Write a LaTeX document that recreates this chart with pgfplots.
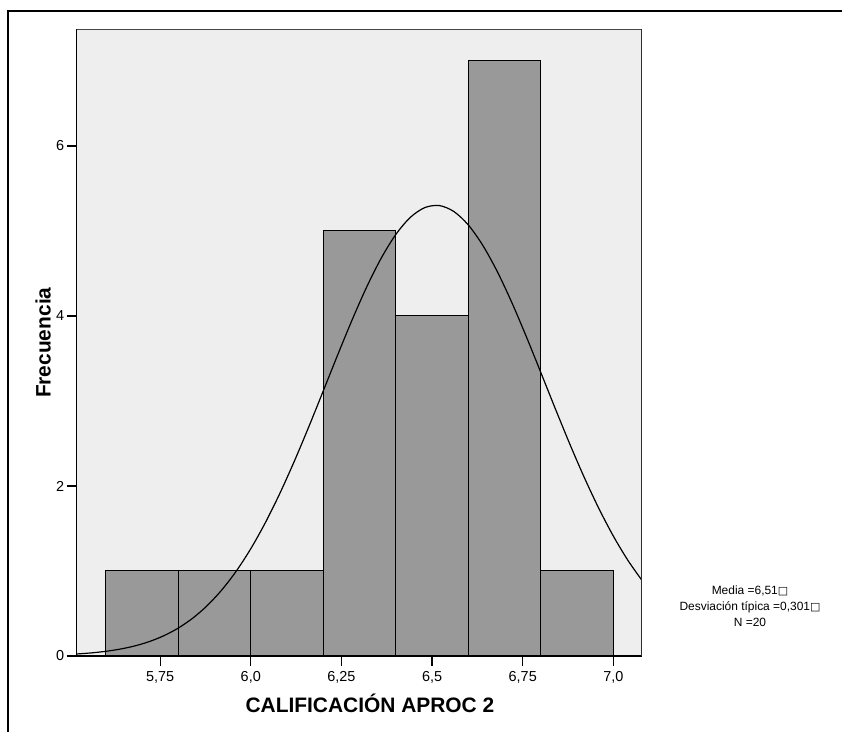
\documentclass[border=0pt]{standalone}
\usepackage{fontspec}
\setmainfont{Liberation Sans}
\newfontfamily\symfont{DejaVu Sans}
\usepackage{pgfplots}
\pgfplotsset{compat=1.18}
\definecolor{panelbg}{RGB}{238,238,238}
\definecolor{barfill}{RGB}{153,153,153}
\definecolor{frameedge}{RGB}{70,70,70}
\newcommand{\missingglyph}{{\symfont\fontsize{11}{16}\selectfont □}}

\begin{document}
\begin{tikzpicture}
\useasboundingbox (0bp,0bp) rectangle (842bp,732bp);
\draw[line width=1.2bp] (8bp,0bp) -- (8bp,721bp) -- (842bp,721bp);
\begin{axis}[
  at={(76.7bp,76bp)}, anchor=south west,
  scale only axis, width=565bp, height=626.5bp,
  xmin=5.52, xmax=7.078, ymin=0, ymax=7.37,
  axis background/.style={fill=panelbg},
  axis line style={black, line width=1.2bp},
  xtick={5.75,6.0,6.25,6.5,6.75,7.0},
  xticklabels={{5,75},{6,0},{6,25},{6,5},{6,75},{7,0}},
  ytick={0,2,4,6},
  tick align=outside, tick pos=left,
  major tick length=10bp,
  tick style={black, line width=1.2bp},
  /pgf/number format/assume math mode=true,
  tick label style={font=\fontsize{14.5}{16}\selectfont},
  xticklabel style={yshift=-2bp},
  yticklabel style={xshift=1bp},
  label style={font=\fontsize{21}{24}\selectfont\bfseries},
  xlabel={CALIFICACIÓN APROC 2},
  ylabel={Frecuencia},
  xlabel style={at={(axis description cs:0.519,-0.075)}, anchor=center},
  ylabel style={at={(axis description cs:-0.0596,0.5)}, anchor=center},
  clip=true,
]
% histogram of the grades, bin width 0.2
\addplot[ybar interval, fill=barfill, draw=black, line width=1bp]
  coordinates {(5.6,1) (5.8,1) (6.0,1) (6.2,5) (6.4,4) (6.6,7) (6.8,1) (7.0,1)};
% fitted normal curve (mean 6.51, sd 0.301, N = 20)
\addplot[smooth, black, line width=1.2bp] coordinates {
 (5.52,0.0237) (5.56,0.0364) (5.60,0.0549) (5.64,0.0813) (5.68,0.1183)
 (5.72,0.1693) (5.76,0.2378) (5.80,0.3282) (5.84,0.4452) (5.88,0.5932)
 (5.92,0.7767) (5.96,0.9983) (6.00,1.2618) (6.04,1.5667) (6.08,1.9112)
 (6.12,2.2903) (6.16,2.6964) (6.20,3.1195) (6.24,3.5457) (6.28,3.9592)
 (6.32,4.3441) (6.36,4.6824) (6.40,4.9591) (6.44,5.1600) (6.48,5.2752)
 (6.52,5.2987) (6.56,5.2289) (6.60,5.0699) (6.64,4.8292) (6.68,4.5201)
 (6.72,4.1565) (6.76,3.7551) (6.80,3.3331) (6.84,2.9069) (6.88,2.4907)
 (6.92,2.0968) (6.96,1.7341) (7.00,1.4092) (7.04,1.1250) (7.08,0.8822)};
% darker top and right edges of the plot frame
\draw[frameedge, line width=1.6bp]
  (rel axis cs:0,1) -- (rel axis cs:1,1) -- (rel axis cs:1,0);
\end{axis}
\node[align=center, font=\fontsize{12}{16}\selectfont, inner sep=0pt]
  at (750bp,126bp) {Media =6,51\missingglyph\\
  Desviación típica =0,301\missingglyph\\
  N =20};
\end{tikzpicture}
\end{document}
